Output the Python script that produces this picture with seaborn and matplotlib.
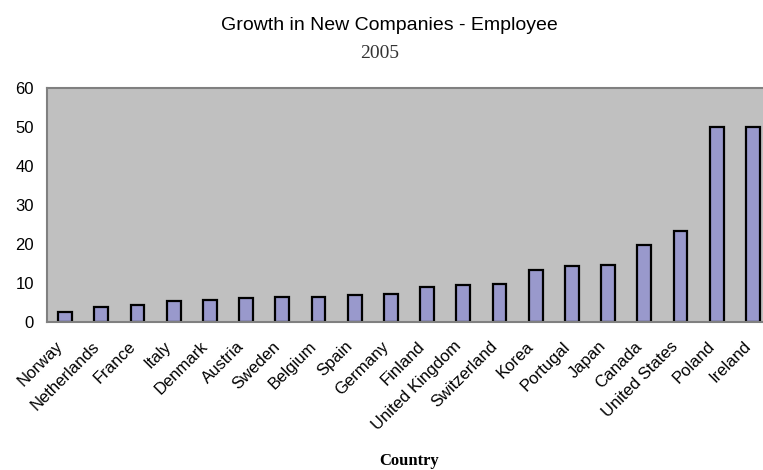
import matplotlib
matplotlib.use("Agg")
import matplotlib.pyplot as plt
import matplotlib.transforms as mtransforms
import seaborn as sns
import pandas as pd

countries = ["Norway", "Netherlands", "France", "Italy", "Denmark", "Austria",
             "Sweden", "Belgium", "Spain", "Germany", "Finland", "United Kingdom",
             "Switzerland", "Korea", "Portugal", "Japan", "Canada", "United States",
             "Poland", "Ireland"]
growth = [2.6, 3.8, 4.4, 5.5, 5.6, 6.1, 6.3, 6.5, 6.9, 7.1, 8.9, 9.5,
          9.8, 13.4, 14.4, 14.7, 19.7, 23.3, 50.0, 50.0]
y_ticks = [0, 10, 20, 30, 40, 50, 60]

df = pd.DataFrame({"Country": countries, "Growth": growth})

sns.set_theme(style="white")
plt.rcParams["font.family"] = ["Liberation Sans", "DejaVu Sans"]
plt.rcParams["text.color"] = "black"
plt.rcParams["xtick.color"] = "black"
plt.rcParams["ytick.color"] = "black"

fig = plt.figure(figsize=(7.63, 4.70), dpi=100)
# the plot area runs slightly past the right edge of the canvas
ax = fig.add_axes([47 / 763, 148 / 470, 724 / 763, 234 / 470])

sns.barplot(data=df, x="Country", y="Growth", ax=ax, color="#9999CC",
            saturation=1, width=0.38, edgecolor="black", linewidth=1.6)

ax.set_facecolor("#C0C0C0")
ax.set_ylim(0, 60)
ax.set_yticks(y_ticks)
ax.set_yticklabels([str(t) for t in y_ticks], fontsize=12)
ax.set_xlim(-0.5, len(countries) - 0.5)
ax.tick_params(axis="y", length=0, pad=9.5)
ax.set_xticks(range(len(countries)))
ax.set_xticklabels(countries, rotation=45, ha="right", va="top",
                   rotation_mode="anchor", fontsize=12)
ax.tick_params(axis="x", length=0, pad=12)

# nudge the slanted country names a little to the left of their bars
shift = mtransforms.ScaledTranslation(-10 / 100, 0, fig.dpi_scale_trans)
for lab in ax.get_xticklabels():
    lab.set_transform(lab.get_transform() + shift)

for side in ["left", "top", "bottom"]:
    ax.spines[side].set_visible(True)
    ax.spines[side].set_color("#808080")
    ax.spines[side].set_linewidth(1.5)
ax.spines["right"].set_visible(False)

ax.set_ylabel("")
ax.set_xlabel("")

fig.text(389 / 763, 1 - 30 / 470, "Growth in New Companies - Employee",
         ha="center", va="baseline", fontsize=14, family="Liberation Sans")
fig.text(380 / 763, 1 - 58 / 470, "2005", ha="center", va="baseline",
         fontsize=14, family="Liberation Serif", color="#333333")
fig.text(409 / 763, 1 - 465 / 470, "Country", ha="center", va="baseline",
         fontsize=12, family="Liberation Serif", weight="bold")

fig.savefig("out.png", dpi=100)
